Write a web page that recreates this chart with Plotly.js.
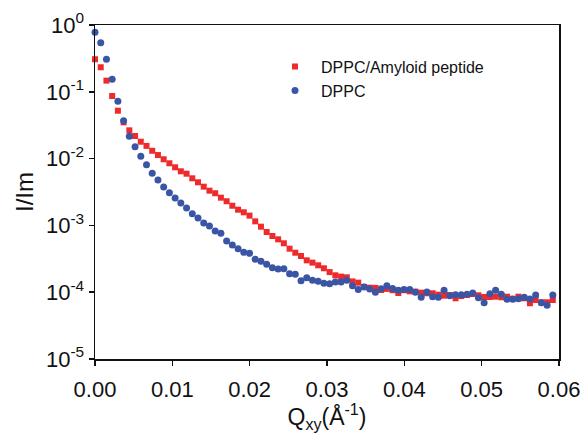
<!DOCTYPE html>
<html>
<head>
<meta charset="utf-8">
<script src="https://cdn.plot.ly/plotly-3.0.1.min.js"></script>
<style>html,body{margin:0;padding:0;background:#fff;}#chart{width:582px;height:433px;}</style>
</head>
<body>
<div id="chart"></div>
<script>
const qxy = [0, 0.00074, 0.00148, 0.00222, 0.00296, 0.0037, 0.00444, 0.00518, 0.00592, 0.00666,
  0.0074, 0.00814, 0.00888, 0.00962, 0.01036, 0.0111, 0.01184, 0.01258, 0.01332, 0.01406,
  0.0148, 0.01554, 0.01628, 0.01702, 0.01776, 0.0185, 0.01924, 0.01998, 0.02072, 0.02146,
  0.0222, 0.02294, 0.02368, 0.02442, 0.02516, 0.0259, 0.02664, 0.02738, 0.02812, 0.02886,
  0.0296, 0.03034, 0.03108, 0.03182, 0.03256, 0.0333, 0.03404, 0.03478, 0.03552, 0.03626,
  0.037, 0.03774, 0.03848, 0.03922, 0.03996, 0.0407, 0.04144, 0.04218, 0.04292, 0.04366,
  0.0444, 0.04514, 0.04588, 0.04662, 0.04736, 0.0481, 0.04884, 0.04958, 0.05032, 0.05106,
  0.0518, 0.05254, 0.05328, 0.05402, 0.05476, 0.0555, 0.05624, 0.05698, 0.05772, 0.05846, 0.0592];

const dppcAmyloid = [0.307, 0.233, 0.147, 0.0865, 0.0521, 0.0349, 0.0265, 0.0218, 0.0179, 0.0155,
  0.0131, 0.0113, 0.00977, 0.00851, 0.00741, 0.00646, 0.00594, 0.00507, 0.00442, 0.00380,
  0.00331, 0.00303, 0.00260, 0.00230, 0.00197, 0.00172, 0.00157, 0.00140, 0.00115, 0.000957,
  0.000796, 0.000694, 0.000619, 0.000540, 0.000448, 0.000390, 0.000348, 0.000300, 0.000277, 0.000253,
  0.000228, 0.000200, 0.000179, 0.000171, 0.000167, 0.000145, 0.000139, 0.000120, 0.000117, 0.000116,
  0.000108, 0.000112, 0.000107, 0.0000973, 0.000107, 0.000103, 0.000102, 0.0000984, 0.0000964, 0.0000964,
  0.0000918, 0.0000887, 0.0000908, 0.0000811, 0.0000877, 0.0000908, 0.0000940, 0.0000899, 0.0000848, 0.0000848,
  0.0000857, 0.0000839, 0.0000857, 0.0000800, 0.0000857, 0.0000811, 0.0000683, 0.0000764, 0.0000706, 0.0000706, 0.0000764];

const dppc = [0.778, 0.543, 0.307, 0.154, 0.0721, 0.0369, 0.0216, 0.0151, 0.0108, 0.00811,
  0.00603, 0.00479, 0.00376, 0.00309, 0.00257, 0.00216, 0.00182, 0.00150, 0.00129, 0.00109,
  0.000980, 0.000824, 0.000762, 0.000584, 0.000509, 0.000448, 0.000395, 0.000382, 0.000311, 0.000290,
  0.000262, 0.000233, 0.000222, 0.000225, 0.000189, 0.000185, 0.000149, 0.000165, 0.000151, 0.000146,
  0.000136, 0.000134, 0.000142, 0.000142, 0.000151, 0.000125, 0.000110, 0.000120, 0.000112, 0.0000997,
  0.000113, 0.000125, 0.000114, 0.000107, 0.000110, 0.000110, 0.0000997, 0.0000839, 0.000101, 0.0000857,
  0.0000839, 0.000107, 0.0000887, 0.0000918, 0.0000918, 0.0000931, 0.0000973, 0.0000828, 0.0000697, 0.0000950,
  0.000107, 0.0000931, 0.0000783, 0.0000783, 0.0000800, 0.0000839, 0.0000791, 0.0000908, 0.0000697, 0.0000637, 0.0000908];

const seriesNames = ["DPPC/Amyloid peptide", "DPPC"];
const yTickVals = [1e-5, 1e-4, 1e-3, 1e-2, 1e-1, 1];
const yTickText = ["10<sup>-5</sup>", "10<sup>-4</sup>", "10<sup>-3</sup>", "10<sup>-2</sup>", "10<sup>-1</sup>", "10<sup>0</sup>"];
const xTickVals = [0, 0.01, 0.02, 0.03, 0.04, 0.05, 0.06];

const FONT = "Liberation Sans, Arial, sans-serif";

const traces = [
  {x: qxy, y: dppcAmyloid, name: seriesNames[0], type: "scatter", mode: "markers",
   marker: {symbol: "square", size: 6, color: "#ee2a2a"}, cliponaxis: false},
  {x: qxy, y: dppc, name: seriesNames[1], type: "scatter", mode: "markers",
   marker: {symbol: "circle", size: 7, color: "#3b55a5"}, cliponaxis: false}
];

const layout = {
  width: 582, height: 433,
  margin: {l: 95, r: 23, t: 25, b: 74},
  paper_bgcolor: "#ffffff", plot_bgcolor: "#ffffff",
  font: {family: FONT, color: "#111"},
  showlegend: true,
  legend: {x: 0.375, y: 0.926, xanchor: "left", yanchor: "top", bgcolor: "rgba(0,0,0,0)",
           font: {size: 16, family: FONT, color: "#111"}, tracegroupgap: 0, itemwidth: 42},
  xaxis: {
    range: [0, 0.06], tickvals: xTickVals, tickformat: ".2f",
    ticks: "outside", ticklen: 5, tickwidth: 1.5, tickcolor: "#111",
    showline: true, linecolor: "#111", linewidth: 1.5, mirror: true,
    showgrid: false, zeroline: false, ticklabelstandoff: 5,
    tickfont: {size: 22, family: FONT, color: "#111"},
    title: {text: "Q<sub>xy</sub>(Å<sup>-1</sup>)", font: {size: 23, family: FONT, color: "#111"}, standoff: 10}
  },
  yaxis: {
    type: "log", range: [-5, 0], tickvals: yTickVals, ticktext: yTickText,
    ticks: "outside", ticklen: 5, tickwidth: 1.5, tickcolor: "#111",
    showline: true, linecolor: "#111", linewidth: 1.5, mirror: true,
    showgrid: false, zeroline: false,
    tickfont: {size: 22, family: FONT, color: "#111"},
    title: {text: "I/Im", font: {size: 24, family: FONT, color: "#111"}, standoff: 5}
  }
};

Plotly.newPlot("chart", traces, layout, {displayModeBar: false, staticPlot: true});
</script>
</body>
</html>
